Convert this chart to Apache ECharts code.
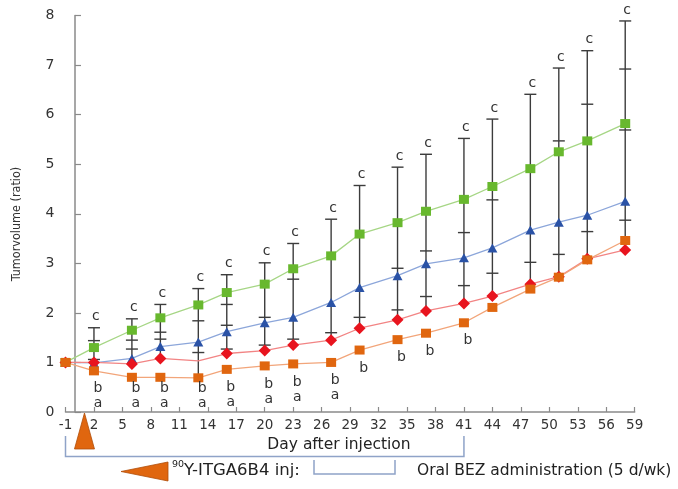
<!DOCTYPE html>
<html>
<head>
<meta charset="utf-8">
<script src="https://cdn.jsdelivr.net/npm/echarts@6/dist/echarts.min.js"></script>
<style>html,body{margin:0;padding:0;background:#fff;}#c{width:678px;height:489px;}</style>
</head>
<body>
<div id="c"></div>
<script>
// ---- data ----
const days = [-1, 2, 6, 9, 13, 16, 20, 23, 27, 30, 34, 37, 41, 44, 48, 51, 54, 58];
const green  = [1, 1.30, 1.65, 1.90, 2.16, 2.41, 2.58, 2.89, 3.15, 3.59, 3.82, 4.05, 4.29, 4.55, 4.91, 5.25, 5.47, 5.82];
const blue   = [1, 0.99, 1.08, 1.32, 1.41, 1.62, 1.80, 1.91, 2.21, 2.51, 2.75, 2.99, 3.11, 3.31, 3.67, 3.83, 3.97, 4.25];
const red    = [1, 1.00, 0.97, 1.08, 1.03, 1.18, 1.24, 1.35, 1.45, 1.69, 1.86, 2.04, 2.19, 2.34, 2.58, 2.73, 3.09, 3.27];
const orange = [1, 0.83, 0.70, 0.70, 0.69, 0.86, 0.93, 0.97, 1.00, 1.25, 1.46, 1.59, 1.80, 2.11, 2.48, 2.72, 3.07, 3.46];
// error bars: top / bottom of the black line and inner caps
const errTop    = [null, 1.70, 1.88, 2.17, 2.49, 2.77, 3.01, 3.40, 3.89, 4.57, 4.94, 5.20, 5.52, 5.91, 6.41, 6.94, 7.29, 7.89];
const errBottom = [null, 0.99, 0.97, 1.08, 0.69, 1.18, 1.24, 1.35, 1.45, 1.69, 1.86, 2.04, 2.19, 2.34, 2.58, 2.73, 3.09, 3.27];
const errCaps = [[], [1.44, 1.06], [1.45, 1.27], [1.61, 1.47], [1.84, 1.20], [2.17, 1.75, 1.27], [1.91, 1.35], [2.68, 1.47], [1.60], [1.91], [2.90, 2.06], [3.25, 2.33], [3.62, 2.55], [4.28, 2.80], [3.02], [5.47, 3.18], [6.21, 3.64], [6.92, 5.69, 3.87]];
// significance letters
const letterC = ['', 'c','c','c','c','c','c','c','c','c','c','c','c','c','c','c','c','c'];
const letterB = ['', 'b','b','b','b','b','b','b','b','b','b','b','b','','','','',''];
const letterA = ['', 'a','a','a','a','a','a','a','a','','','','','','','','',''];
const xMin = -1, xMax = 59, xStep = 3;
const yMin = 0, yMax = 8, yStep = 1;
const injectionDay = 1;
const bracketDays = [-1, 41];

const FONT = '"DejaVu Sans", Verdana, sans-serif';
const chart = echarts.init(document.getElementById('c'), null, {renderer: 'canvas'});

function lineSeries(name, vals, symbol, size, mColor, lColor, hidden) {
  return {
    type: 'line', name: name, z: 3,
    data: days.map((d, i) => {
      const it = {value: [d, vals[i]]};
      if (hidden && hidden.indexOf(i) >= 0) it.symbolSize = 0;
      return it;
    }),
    symbol: symbol, symbolSize: size,
    itemStyle: {color: mColor},
    lineStyle: {color: lColor, width: 1.3},
    animation: false
  };
}

const option = {
  animation: false,
  grid: {left: 65.5, right: 43.3, top: 15.5, bottom: 77, containLabel: false},
  xAxis: {
    type: 'value', min: xMin, max: xMax, interval: xStep,
    axisLine: {lineStyle: {color: '#8a8a8a', width: 1.5}},
    axisTick: {inside: true, length: 5, lineStyle: {color: '#8a8a8a', width: 1.2}},
    axisLabel: {color: '#333', fontFamily: FONT, fontSize: 13.5, margin: 6},
    splitLine: {show: false}
  },
  yAxis: {
    type: 'value', min: yMin, max: yMax, interval: yStep,
    axisLine: {show: true, lineStyle: {color: '#8a8a8a', width: 1.5}},
    axisTick: {show: true, inside: true, length: 6, lineStyle: {color: '#8a8a8a', width: 1.2}},
    axisLabel: {color: '#333', fontFamily: FONT, fontSize: 14, margin: 11},
    splitLine: {show: false}
  },
  series: [
    {
      type: 'custom', z: 2,
      data: days.map((d, i) => [d, errBottom[i], errTop[i], i]).filter(r => r[2] != null),
      renderItem: function (params, api) {
        const d = api.value(0), lo = api.value(1), hi = api.value(2), idx = api.value(3);
        const pTop = api.coord([d, hi]), pBot = api.coord([d, lo]);
        const x = pTop[0], hw = 6;
        const children = [{type: 'line', shape: {x1: x, y1: pTop[1], x2: x, y2: pBot[1]}, style: {stroke: '#3c3c3c', lineWidth: 1.4}}];
        children.push({type: 'line', shape: {x1: x - hw, y1: pTop[1], x2: x + hw, y2: pTop[1]}, style: {stroke: '#3c3c3c', lineWidth: 1.4}});
        errCaps[idx].forEach(v => {
          const y = api.coord([d, v])[1];
          children.push({type: 'line', shape: {x1: x - hw, y1: y, x2: x + hw, y2: y}, style: {stroke: '#3c3c3c', lineWidth: 1.4}});
        });
        return {type: 'group', children: children};
      },
      animation: false
    },
    lineSeries('green', green, 'rect', [10, 9], '#68b82e', '#a6d685'),
    lineSeries('blue', blue, 'triangle', [10, 9], '#2a52a6', '#8ca6da'),
    lineSeries('red', red, 'diamond', [12, 12], '#e8141e', '#f28484', [4]),
    lineSeries('orange', orange, 'rect', [10, 9], '#e0660f', '#f2a57a'),
    {
      type: 'custom', z: 4,
      data: days.map((d, i) => [d, orange[i], errTop[i] == null ? 0 : errTop[i], i]),
      renderItem: function (params, api) {
        const d = api.value(0), ov = api.value(1), top = api.value(2), idx = api.value(3);
        const children = [];
        const st = (t, x, y) => ({type: 'text', style: {text: t, x: x, y: y, align: 'center', verticalAlign: 'middle', fill: '#333', font: '14px ' + FONT}});
        const pO = api.coord([d, ov]);
        const floorY = api.coord([d, 0])[1] - 24;
        const bY = Math.min(pO[1] + 18, floorY);
        if (letterC[idx]) { const pt = api.coord([d, top]); children.push(st(letterC[idx], pt[0] + 2, pt[1] - 11)); }
        if (letterB[idx]) children.push(st(letterB[idx], pO[0] + 4, bY));
        if (letterA[idx]) children.push(st(letterA[idx], pO[0] + 4, bY + 15));
        return {type: 'group', children: children};
      },
      animation: false
    }
  ]
};
chart.setOption(option);

const px = d => chart.convertToPixel({xAxisIndex: 0}, d);
const py = v => chart.convertToPixel({yAxisIndex: 0}, v);
const x0 = py(0);
const xi = px(injectionDay);
const bL = px(bracketDays[0]), bR = px(bracketDays[1]);
const bracketColor = '#8fa3c8';

chart.setOption({
  graphic: [
    {type: 'text', x: 17, y: 224, rotation: Math.PI / 2,
     style: {text: 'Tumorvolume (ratio)', align: 'center', verticalAlign: 'middle', fill: '#333', font: '12.5px "DejaVu Sans Condensed", "Liberation Sans Narrow", "Liberation Sans", sans-serif'}},
    {type: 'polygon', shape: {points: [[xi, x0 + 1], [xi - 10, x0 + 37], [xi + 10, x0 + 37]]},
     style: {fill: '#e0660f', stroke: '#b04e0a', lineWidth: 0.8}, z: 10},
    {type: 'polyline', shape: {points: [[bL, 436], [bL, 456.5], [bR, 456.5], [bR, 436]]},
     style: {stroke: bracketColor, lineWidth: 1.5, fill: null}},
    {type: 'text', x: 339, y: 445, style: {text: 'Day after injection', align: 'center', verticalAlign: 'middle', fill: '#222', font: '15.5px ' + FONT}},
    {type: 'polygon', shape: {points: [[121, 471.5], [168, 462], [168, 481]]},
     style: {fill: '#e0660f', stroke: '#b04e0a', lineWidth: 0.8}},
    {type: 'text', x: 172, y: 465, style: {text: '90', align: 'left', verticalAlign: 'middle', fill: '#222', font: '9.5px ' + FONT}},
    {type: 'text', x: 184, y: 471, style: {text: 'Y-ITGA6B4 inj:', align: 'left', verticalAlign: 'middle', fill: '#222', font: '16.5px ' + FONT}},
    {type: 'polyline', shape: {points: [[314, 460], [314, 474], [395, 474], [395, 460]]},
     style: {stroke: bracketColor, lineWidth: 1.5, fill: null}},
    {type: 'text', x: 417, y: 471, style: {text: 'Oral BEZ administration (5 d/wk)', align: 'left', verticalAlign: 'middle', fill: '#222', font: '15.5px ' + FONT}}
  ]
});
</script>
</body>
</html>
